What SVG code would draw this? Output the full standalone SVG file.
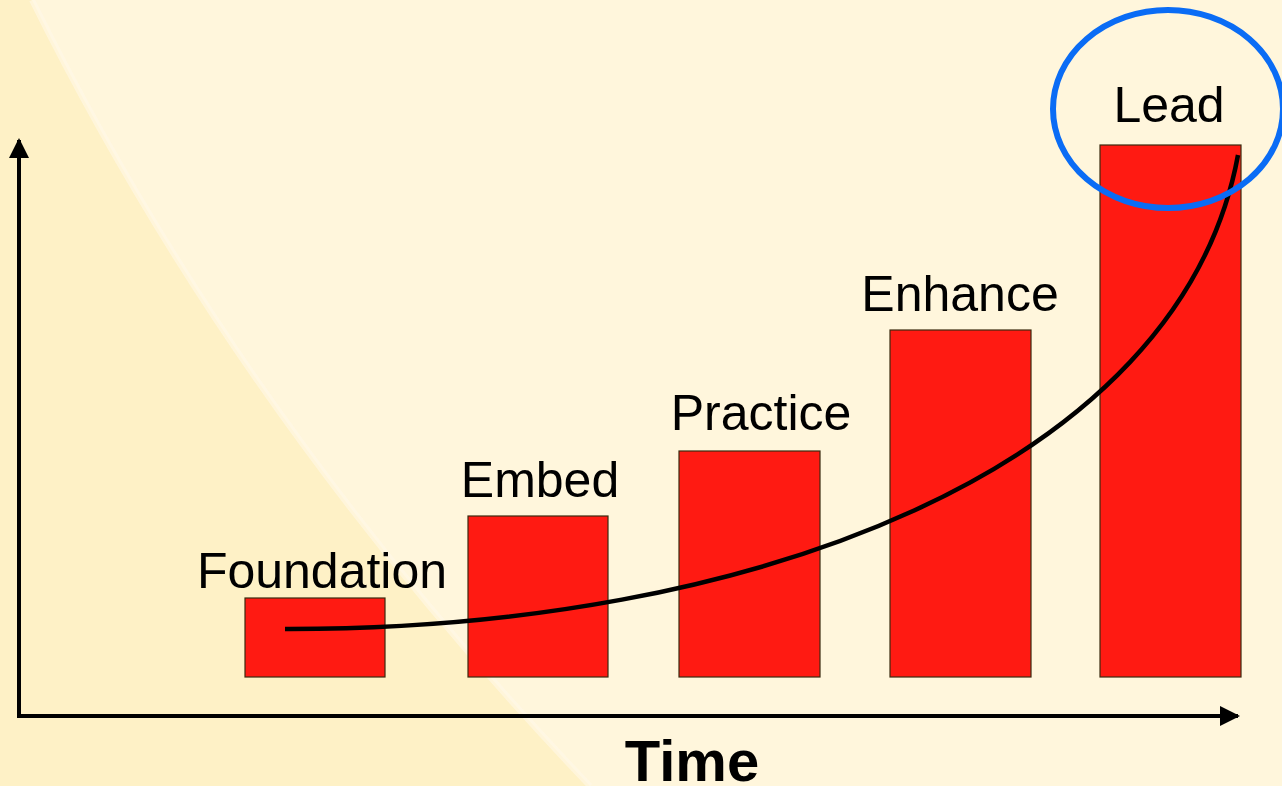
<svg xmlns="http://www.w3.org/2000/svg" width="1282" height="786" viewBox="0 0 1282 786">
<defs>
<style>
.bar{fill:#FF1A12;stroke:#3a2a10;stroke-width:1.2}
.lbl{font-family:"Liberation Sans",Arial,sans-serif;font-size:50px;fill:#000;text-anchor:middle}
.axis{stroke:#000;stroke-width:4;fill:none}
</style>
<marker id="ah" viewBox="0 0 10 10" refX="9" refY="5" markerWidth="5" markerHeight="5" orient="auto" markerUnits="strokeWidth">
<path d="M0,0 L10,5 L0,10 z" fill="#000"/>
</marker>
</defs>
<rect width="1282" height="786" fill="#FFF6DC"/>
<path d="M0,0 L32,0 Q240,420 590,786 L0,786 z" fill="#FEF1C6"/>
<path d="M32,0 Q240,420 590,786" stroke="#FFF8E8" stroke-width="6" fill="none" opacity="0.6"/>
<g id="connectors">
<line class="axis" x1="19" y1="718" x2="19" y2="140" marker-end="url(#ah)"/>
<line class="axis" x1="17" y1="716" x2="1238" y2="716" marker-end="url(#ah)"/>
</g>
<g id="foundation"><rect class="bar" x="245" y="598" width="140" height="79"/><text class="lbl" x="322" y="588">Foundation</text></g>
<g id="embed"><rect class="bar" x="468" y="516" width="140" height="161"/><text class="lbl" x="540" y="497">Embed</text></g>
<g id="practice"><rect class="bar" x="679" y="451" width="141" height="226"/><text class="lbl" x="761" y="430">Practice</text></g>
<g id="enhance"><rect class="bar" x="890" y="330" width="141" height="347"/><text class="lbl" x="960" y="311">Enhance</text></g>
<g id="lead"><rect class="bar" x="1100" y="145" width="141" height="532"/><text class="lbl" x="1169" y="122">Lead</text></g>
<g id="curve"><path d="M285,629 C750,630 1180,470 1238,155" stroke="#000" stroke-width="4.5" fill="none"/></g>
<g id="highlight"><ellipse cx="1168" cy="109" rx="115" ry="99" fill="none" stroke="#0A6CF5" stroke-width="6"/></g>
<g id="time"><text x="692" y="781" font-family="Liberation Sans,Arial,sans-serif" font-size="58" font-weight="bold" text-anchor="middle">Time</text></g>
</svg>
